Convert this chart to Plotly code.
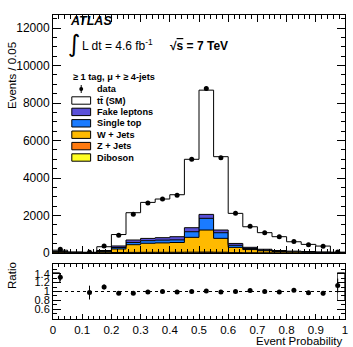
import numpy as np
import plotly.graph_objects as go

# ---------------- data ----------------
bin_edges = np.round(np.arange(0, 1.0001, 0.05), 3)
mc_total = [150, 60, 40, 335, 985, 2150, 2700, 2880, 3110, 5000,
            8690, 5140, 2115, 1400, 1085, 870, 600, 460, 370, 45]
diboson = [2, 1, 1, 3, 5, 8, 8, 8, 10, 10, 10, 10, 5, 3, 2, 2, 1, 1, 1, 1]
zjets = [5, 2, 2, 10, 20, 25, 30, 30, 30, 35, 40, 32, 15, 10, 8, 5, 4, 3, 2, 1]
wjets = [40, 10, 10, 60, 190, 410, 480, 500, 520, 790, 1175, 740, 280, 170, 110, 70, 50, 40, 30, 15]
single_top = [20, 5, 5, 30, 80, 120, 140, 150, 140, 300, 625, 300, 110, 60, 40, 25, 20, 15, 12, 5]
fake_leptons = [20, 5, 5, 30, 80, 130, 120, 130, 170, 215, 210, 145, 100, 60, 40, 30, 25, 20, 15, 8]
data_counts = [198, 0, 39, 369, 946, 2064, 2673, 2880, 3079, 5000,
               8777, 5089, 2115, 1428, 1085, 861, 618, 446, 355, 51]
band_low = [1.20, None, None, None, None, None, None, None, None, None,
            None, None, None, None, None, None, None, None, None, 0.78]
band_high = [1.42, None, None, None, None, None, None, None, None, None,
             None, None, None, None, None, None, None, None, None, 1.42]
y_ticks = [0, 2000, 4000, 6000, 8000, 10000, 12000]
ratio_ticks = [0.6, 0.8, 1.0, 1.2, 1.4]
x_ticks = [0, 0.1, 0.2, 0.3, 0.4, 0.5, 0.6, 0.7, 0.8, 0.9, 1]

components = [
    ("Diboson", diboson, "#FFFF22"),
    ("Z + Jets", zjets, "#FF7A10"),
    ("W + Jets", wjets, "#FFBA00"),
    ("Single top", single_top, "#1A7BFF"),
    ("Fake leptons", fake_leptons, "#5A50D8"),
]

# ---------------- geometry helpers ----------------
W, H = 353, 347
L, R, T, B = 53, 5, 15, 28
PW, PH = W - L - R, H - T - B


def px(x):
    return (x - L) / PW


def py(y):
    return (H - B - y) / PH


FONT = "Liberation Sans, Arial, Helvetica, sans-serif"

centers = (bin_edges[:-1] + bin_edges[1:]) / 2
bw = 0.05
mc_total_a = np.array(mc_total, float)
bkg_sum = np.zeros(len(mc_total))
for _, v, _ in components:
    bkg_sum += np.array(v, float)
ttbar = mc_total_a - bkg_sum

fig = go.Figure()

# stacked step histograms
cum = np.zeros(len(mc_total))
first = True
for name, vals, col in components + [("tt (SM)", list(ttbar), "#FFFFFF")]:
    cum = cum + np.array(vals, float)
    ys = np.append(cum, cum[-1])
    fig.add_trace(go.Scatter(
        x=bin_edges, y=ys, mode="lines", line=dict(shape="hv", color="black", width=1),
        fill="tozeroy" if first else "tonexty", fillcolor=col, showlegend=False,
        xaxis="x", yaxis="y", hoverinfo="skip"))
    first = False

# data points
d = np.array(data_counts, float)
mask = d > 0
fig.add_trace(go.Scatter(
    x=centers[mask], y=d[mask], mode="markers",
    marker=dict(color="black", size=5),
    error_y=dict(type="data", array=np.sqrt(d[mask]), color="black", thickness=1, width=0),
    showlegend=False, xaxis="x", yaxis="y"))

# ratio band boxes
bl = np.array([np.nan if v is None else v for v in band_low])
bh = np.array([np.nan if v is None else v for v in band_high])
bm = ~np.isnan(bl)
offs = np.where(centers[bm] < 0.5, -bw / 2, 0.0)
fig.add_trace(go.Bar(
    x=centers[bm], y=(bh - bl)[bm], base=bl[bm], width=bw / 2, offset=offs,
    marker=dict(color="rgba(0,0,0,0)", line=dict(color="#555555", width=1)),
    showlegend=False, xaxis="x2", yaxis="y2"))

# ratio points
ratio = d[mask] / mc_total_a[mask]
rerr = np.sqrt(d[mask]) / mc_total_a[mask]
fig.add_trace(go.Scatter(
    x=centers[mask], y=ratio, mode="markers",
    marker=dict(color="black", size=5),
    error_y=dict(type="data", array=rerr, color="black", thickness=1, width=0),
    showlegend=False, xaxis="x2", yaxis="y2"))

main_bottom = py(253)
ratio_top = py(264)

axis_common = dict(showline=True, linecolor="black", linewidth=1, mirror="allticks",
                   ticks="inside", tickcolor="black", showgrid=False, zeroline=False,
                   tickfont=dict(family=FONT, size=12, color="black"))

fig.update_layout(
    width=W, height=H, margin=dict(l=L, r=R, t=T, b=B),
    paper_bgcolor="white", plot_bgcolor="white", showlegend=False,
    bargap=0,
    xaxis=dict(domain=[0, 1], range=[0, 1], tickvals=x_ticks, showticklabels=False,
               ticklen=7, minor=dict(ticks="inside", dtick=0.02, ticklen=4, tickcolor="black"),
               anchor="y", **axis_common),
    yaxis=dict(domain=[main_bottom, 1], range=[0, 12700], tickvals=y_ticks, tickformat="d",
               ticklen=8, minor=dict(ticks="inside", dtick=500, ticklen=4, tickcolor="black"),
               anchor="x", **axis_common),
    xaxis2=dict(domain=[0, 1], range=[0, 1], tickvals=x_ticks, ticklen=5,
                minor=dict(ticks="inside", dtick=0.02, ticklen=3, tickcolor="black"),
                anchor="y2", **axis_common),
    yaxis2=dict(domain=[0, ratio_top], range=[0.38, 1.62], tickvals=ratio_ticks,
                ticklen=8, minor=dict(ticks="inside", dtick=0.1, ticklen=4, tickcolor="black"),
                anchor="x2", **axis_common),
)
fig.update_xaxes(tickfont=dict(size=11.5))
fig.update_layout(yaxis2_tickfont=dict(family=FONT, size=11, color="black"))

shapes = []
ann = []
# ratio = 1 line
shapes.append(dict(type="line", xref="x2", yref="y2", x0=0, x1=1, y0=1, y1=1,
                   line=dict(color="black", width=1, dash="dot")))

# axis titles
ann.append(dict(text="Events / 0.05", x=px(3), y=py(40), xref="paper", yref="paper",
                xanchor="left", textangle=-90, showarrow=False,
                font=dict(family=FONT, size=11.5, color="black")))
ann.append(dict(text="Ratio", x=px(3), y=py(291), xref="paper", yref="paper",
                xanchor="left", textangle=-90, showarrow=False,
                font=dict(family=FONT, size=11.5, color="black")))
ann.append(dict(text="Event Probability", x=1, y=py(340.5), xref="paper", yref="paper",
                xanchor="right", yanchor="middle", showarrow=False,
                font=dict(family=FONT, size=11.5, color="black")))

# ATLAS labels
ann.append(dict(text="<b><i>ATLAS</i></b>", x=px(68), y=py(21), xref="paper", yref="paper",
                xanchor="left", yanchor="middle", showarrow=False,
                font=dict(family=FONT, size=12.5, color="black")))
ann.append(dict(text="∫", x=px(66), y=py(44), xref="paper", yref="paper",
                xanchor="left", yanchor="middle", showarrow=False,
                font=dict(family="DejaVu Sans", size=24, color="black")))
ann.append(dict(text="L dt = 4.6 fb<sup>-1</sup>", x=px(80), y=py(45), xref="paper", yref="paper",
                xanchor="left", yanchor="middle", showarrow=False,
                font=dict(family=FONT, size=12, color="black")))
ann.append(dict(text="<b>√<span style='text-decoration:overline'>s</span> = 7 TeV</b>",
                x=px(169), y=py(46), xref="paper", yref="paper",
                xanchor="left", yanchor="middle", showarrow=False,
                font=dict(family=FONT, size=12, color="black")))

# manual legend
LF = dict(family=FONT, size=9.2, color="black")
ann.append(dict(text="<b>≥ 1 tag, μ + ≥ 4-jets</b>", x=px(71), y=py(77), xref="paper", yref="paper",
                xanchor="left", yanchor="middle", showarrow=False, font=LF))
# data marker
shapes.append(dict(type="line", xref="paper", yref="paper", x0=px(81.5), x1=px(81.5),
                   y0=py(85), y1=py(93), line=dict(color="black", width=1)))
shapes.append(dict(type="circle", xref="paper", yref="paper", x0=px(79.5), x1=px(83.5),
                   y0=py(87), y1=py(91), fillcolor="black", line=dict(color="black", width=0)))
ann.append(dict(text="<b>data</b>", x=px(95), y=py(89), xref="paper", yref="paper",
                xanchor="left", yanchor="middle", showarrow=False, font=LF))
legend_items = [("tt\u0304 (SM)", "#FFFFFF")] + [(n, c) for n, _, c in components[::-1]]
for i, (name, col) in enumerate(legend_items):
    yc = 100.5 + i * 11.4
    shapes.append(dict(type="rect", xref="paper", yref="paper", x0=px(72), x1=px(91),
                       y0=py(yc + 3.7), y1=py(yc - 3.7), fillcolor=col,
                       line=dict(color="black", width=1)))
    ann.append(dict(text="<b>" + name + "</b>", x=px(95), y=py(yc), xref="paper", yref="paper",
                    xanchor="left", yanchor="middle", showarrow=False, font=LF))

fig.update_layout(shapes=shapes, annotations=ann)
fig.write_html("out.html")
